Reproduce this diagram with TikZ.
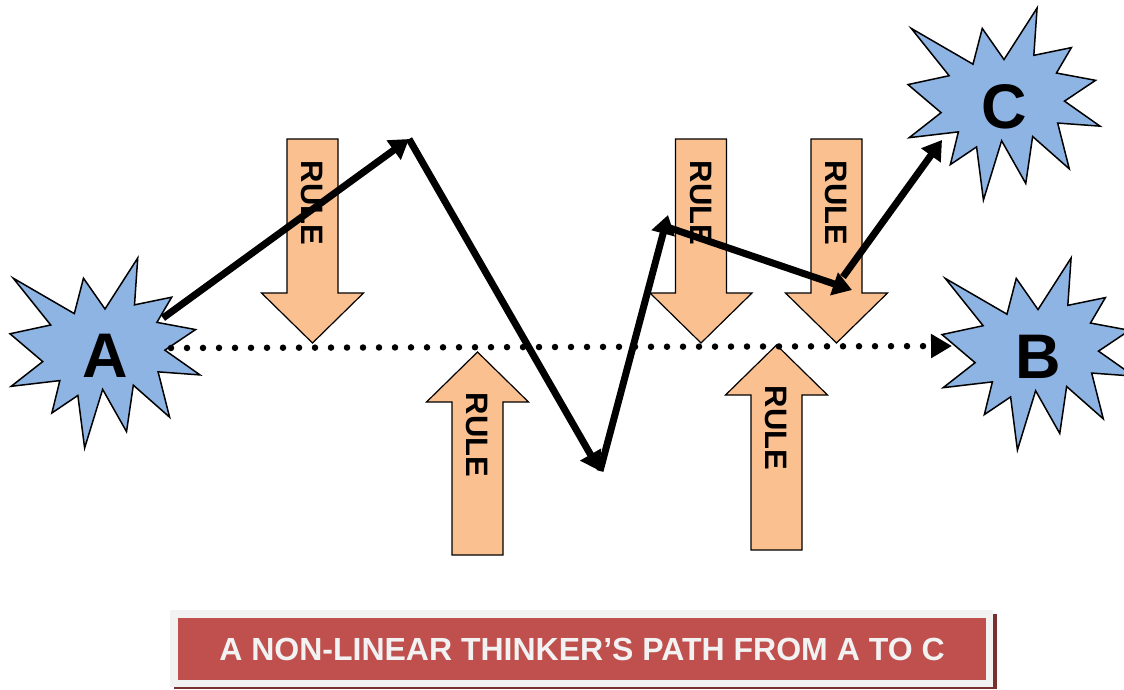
\documentclass[tikz,border=0pt]{standalone}
\usepackage{fontspec}
\setmainfont{Liberation Sans}
\usepackage{tikz}
\usetikzlibrary{positioning,arrows.meta}

\definecolor{starblue}{HTML}{8EB4E3}
\definecolor{rulepeach}{HTML}{FAC090}
\definecolor{bannerred}{HTML}{C0504D}
\definecolor{bannergrey}{HTML}{F2F2F2}
\definecolor{bannershadow}{HTML}{7A302E}

\begin{document}
\begin{tikzpicture}[x=1pt, y=1pt,
    starshape/.style={draw=black, fill=starblue, line width=1.5pt, line join=miter},
    starlabel/.style={font=\bfseries\fontsize{63}{63}\selectfont, inner sep=0pt},
    rulearrow/.style={draw=black, fill=rulepeach, line width=1.2pt},
    ruletext/.style={font=\bfseries\fontsize{31}{31}\selectfont, rotate=-90, inner sep=0pt},
    thinkpath/.style={line width=7pt, -{Triangle[length=19pt,width=23pt]}},
    linearpath/.style={line width=6.5pt, line cap=round, dash pattern=on 0pt off 16pt, -{Triangle[length=21pt,width=23pt]}},
    banner/.style={fill=bannerred, text=bannergrey, font=\bfseries\fontsize{32}{38}\selectfont},]
    \useasboundingbox (0,0) rectangle (1124,-689);

    %Stars
    \foreach \name/\sx/\sy/\sz in {A/10/258/190pt, C/908/8/192pt, B/942/258/192pt}{
      \begin{scope}[shift={(\sx,-\sy)}, x=\sz, y=-\sz]
        \draw[starshape] (0.5000,0.2685) -- (0.6723,0) -- (0.6553,0.2465) -- (0.8509,0.2063)
          -- (0.7732,0.3387) -- (0.9767,0.3767) -- (0.8151,0.4850) -- (1,0.6153)
          -- (0.7795,0.5992) -- (0.8400,0.8377) -- (0.6491,0.6693) -- (0.6133,0.9138)
          -- (0.4876,0.6914) -- (0.3928,1) -- (0.3572,0.7235) -- (0.2205,0.8156)
          -- (0.2624,0.6452) -- (0.0063,0.6753) -- (0.1723,0.5451) -- (0,0.3988)
          -- (0.2142,0.3526) -- (0.0171,0.1063) -- (0.3385,0.2926) -- (0.3867,0.1063) -- cycle;
        \node[starlabel] (\name) at (0.5,0.515) {\name};
      \end{scope}
    }

    %Rules pointing down
    \foreach \cx [count=\i] in {312.5, 701, 836.5}{
      \draw[rulearrow] ({\cx-25.5},-139) -- ({\cx+25.5},-139) -- ({\cx+25.5},-293) -- ({\cx+51},-293)
        -- (\cx,-343) -- ({\cx-51},-293) -- ({\cx-25.5},-293) -- cycle;
      \node[ruletext] (down\i) at (\cx,-203) {RULE};
    }
    %Rules pointing up
    \foreach \cx/\tip/\bot [count=\i] in {477.5/352/555, 776.5/345/550}{
      \draw[rulearrow] (\cx,-\tip) -- ({\cx+51},{-\tip-50}) -- ({\cx+25.5},{-\tip-50}) -- ({\cx+25.5},-\bot)
        -- ({\cx-25.5},-\bot) -- ({\cx-25.5},{-\tip-50}) -- ({\cx-51},{-\tip-50}) -- cycle;
      \node[ruletext] (up\i) at (\cx,{-\tip-83}) {RULE};
    }

    % %Paths
    \coordinate (lstart) at (171,-348);
    \coordinate (lend) at (952,-346);
    \draw[linearpath] (lstart) -- (lend);

    \coordinate (t0) at (163,-318);
    \coordinate (t1) at (409,-139);
    \coordinate (t2) at (600,-471);
    \coordinate (t3) at (668,-215);
    \coordinate (t3b) at (664,-226);
    \coordinate (t4) at (852,-290);
    \coordinate (t4b) at (843,-277);
    \coordinate (t5) at (942,-140);
    \draw[thinkpath] (t0) -- (t1);
    \draw[thinkpath] (t1) -- (t2);
    \draw[thinkpath] (t2) -- (t3);
    \draw[thinkpath] (t3b) -- (t4);
    \draw[thinkpath] (t4b) -- (t5);

    %Caption
    \fill[bannershadow] (174,-614) rectangle (997,-689);
    \fill[bannergrey] (170,-610) rectangle (993,-687);
    \node[banner, minimum width=808pt, minimum height=62pt, inner sep=0pt] (caption) at (582,-649)
      {A NON-LINEAR THINKER’S PATH FROM A TO C};
\end{tikzpicture}
\end{document}
